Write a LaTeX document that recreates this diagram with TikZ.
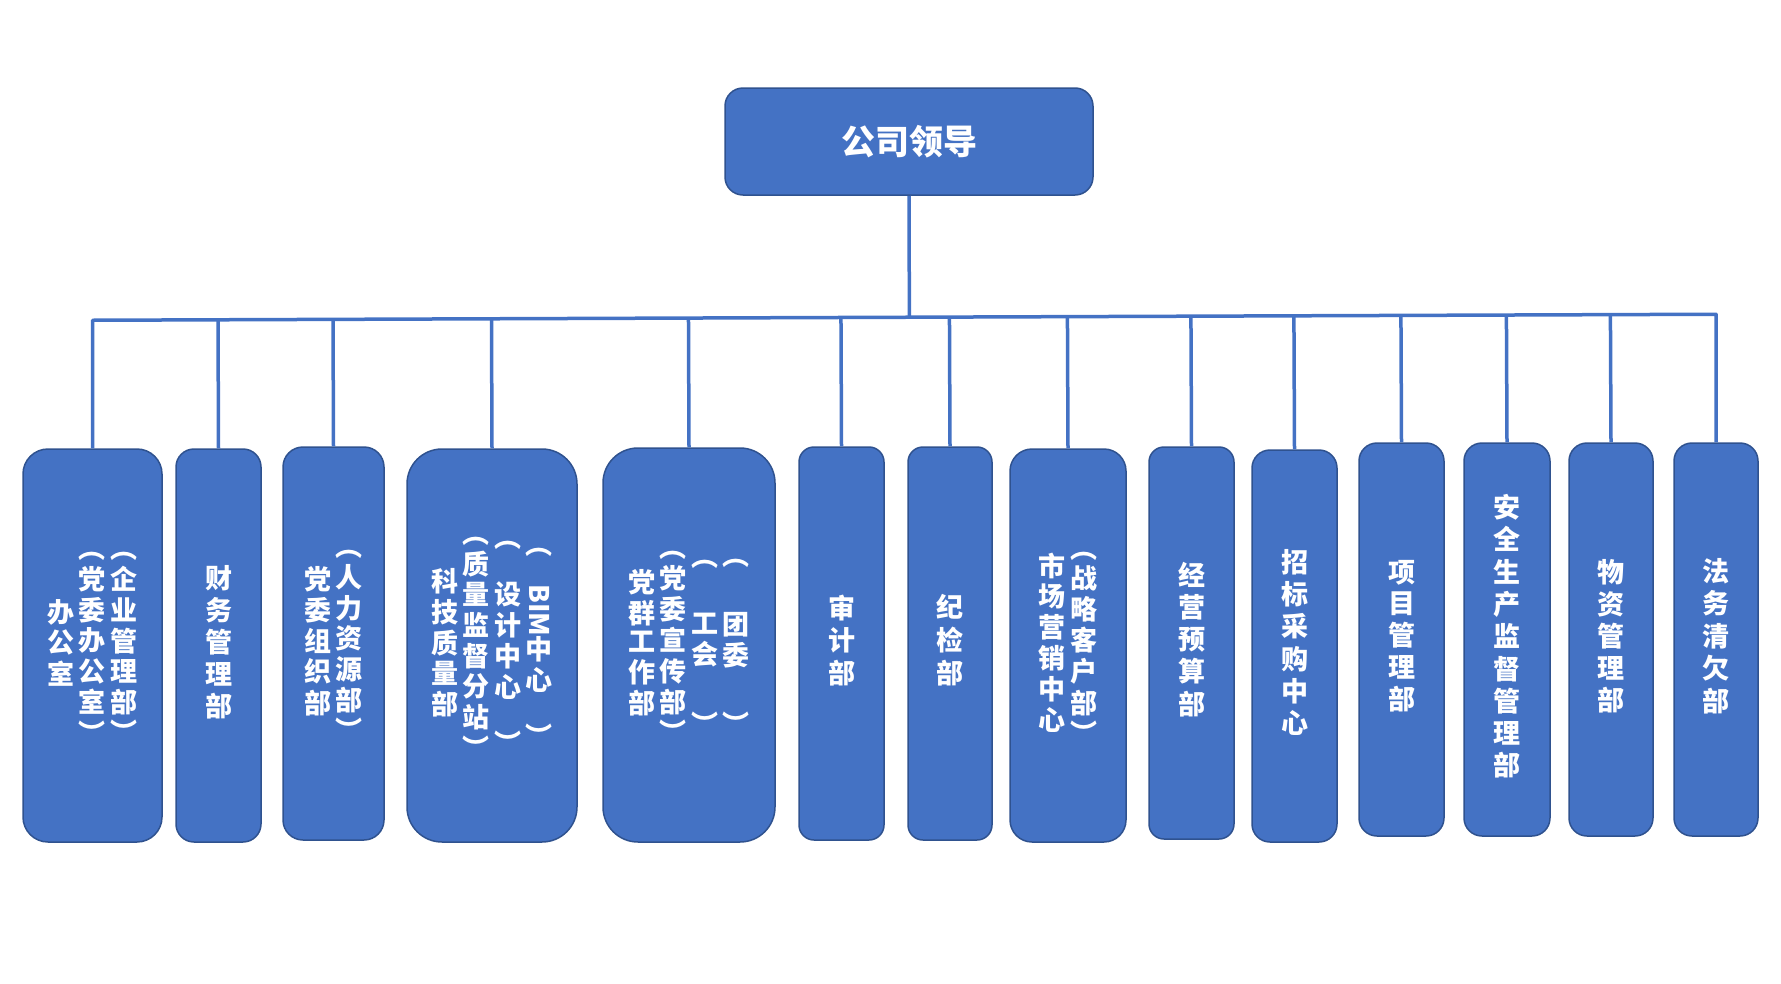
\documentclass[tikz,border=0pt]{standalone}
\usepackage{fontspec}
\setmainfont{Noto Sans CJK SC}
\usepackage{graphicx}
\usetikzlibrary{calc}
\definecolor{boxblue}{HTML}{4472C4}
\definecolor{boxedge}{HTML}{2F528F}
\newcommand{\vcol}[1]{\begin{tabular}[c]{@{}c@{}}#1\end{tabular}}
\newcommand{\vsep}{\hspace{4.5pt}}
\tikzset{
  dept/.style={draw=boxedge, fill=boxblue, line width=1.5pt, rounded corners=#1,
    text=white, inner sep=0pt, minimum width=85pt, minimum height=393pt,
    font=\bfseries\fontsize{27}{30.7}\selectfont},
  dept/.default=18pt,
  multi/.style={font=\bfseries\fontsize{27}{26}\selectfont},
  lead/.style={draw=boxedge, fill=boxblue, line width=1.5pt, rounded corners=18pt,
    text=white, minimum width=368pt, minimum height=107pt,
    font=\bfseries\fontsize{34}{40}\selectfont},
  link/.style={draw=boxblue, line width=3.5pt, line join=round}
}
\begin{document}
\begin{tikzpicture}[x=1pt,y=-1pt]
   \useasboundingbox (0,0) rectangle (1781,983);
   \node[lead] (lead) at (909,141.5) {公司领导};
   % departments, left to right
   \node[dept=25pt, multi, minimum width=139pt] (b1) at (92.5,645.5)
     {\vcol{办\\公\\室}\vsep\vcol{︵\\党\\委\\办\\公\\室\\︶}\vsep\vcol{︵\\企\\业\\管\\理\\部\\︶}};
   \node[dept] (b2) at (218.5,645.5) {\vcol{财\\务\\管\\理\\部}};
   \node[dept=20pt, multi, minimum width=101pt] (b3) at (333.5,643.5)
     {\vcol{党\\委\\组\\织\\部}\vsep\vcol{︵\\人\\力\\资\\源\\部\\︶}};
   \node[dept=35pt, multi, minimum width=170pt] (b4) at (492,645.5)
     {\vcol{科\\技\\质\\量\\部}\vsep\vcol{︵\\质\\量\\监\\督\\分\\站\\︶}\vsep
      \vcol{︵\\[26pt]设\\计\\中\\心\\[26pt]︶}\vsep
      \vcol{︵\\[22pt]\rotatebox[origin=c]{-90}{BIM}\\中\\心\\[26pt]︶}};
   \node[dept=35pt, multi, minimum width=172pt, minimum height=394pt] (b5) at (689,645)
     {\vcol{党\\群\\工\\作\\部}\vsep\vcol{︵\\党\\委\\宣\\传\\部\\︶}\vsep
      \vcol{︵\\[39pt]工\\会\\[39pt]︶}\vsep\vcol{︵\\[39pt]团\\委\\[39pt]︶}};
   \node[dept=15pt] (b6) at (841.5,643.5) {\vcol{审\\计\\部}};
   \node[dept=15pt, minimum width=84pt] (b7) at (950,643.5) {\vcol{纪\\检\\部}};
   \node[dept=22pt, multi, minimum width=116pt] (b8) at (1068,645.5)
     {\vcol{市\\场\\营\\销\\中\\心}\vsep\vcol{︵\\战\\略\\客\\户\\部\\︶}};
   \node[dept=15pt, minimum height=392pt] (b9) at (1191.5,643) {\vcol{经\\营\\预\\算\\部}};
   \node[dept, minimum height=392pt] (b10) at (1294.5,646) {\vcol{招\\标\\采\\购\\中\\心}};
   \node[dept] (b11) at (1401.5,639.5) {\vcol{项\\目\\管\\理\\部}};
   \node[dept, minimum width=86pt] (b12) at (1507,639.5) {\vcol{安\\全\\生\\产\\监\\督\\管\\理\\部}};
   \node[dept, minimum width=84pt] (b13) at (1611,639.5) {\vcol{物\\资\\管\\理\\部}};
   \node[dept, minimum width=84pt] (b14) at (1716,639.5) {\vcol{法\\务\\清\\欠\\部}};
   % connectors
   \coordinate (busL) at ($(b1.north)+(0,-128)$);
   \coordinate (busR) at ($(b14.north)+(0,-128)$);
   \draw[link] (b1.north) -- (busL) -- (busR) -- (b14.north);
   \draw[link] (lead.south) -- ($(busL)!(lead.south)!(busR)$);
   \foreach \b in {b2,b3,b4,b5,b6,b7,b8,b9,b10,b11,b12,b13}
     \draw[link] (\b.north) -- ($(busL)!(\b.north)!(busR)$);
\end{tikzpicture}
\end{document}
